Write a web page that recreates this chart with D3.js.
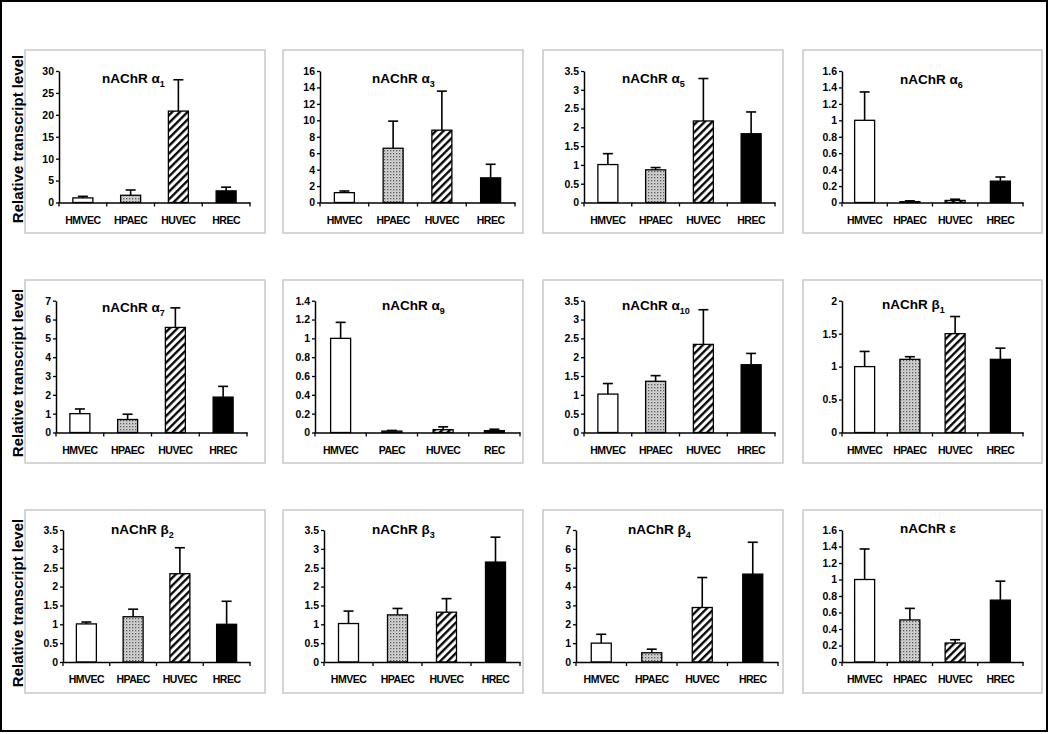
<!DOCTYPE html>
<html><head><meta charset="utf-8">
<script src="https://cdn.jsdelivr.net/npm/d3@7"></script>
<style>body{margin:0;background:#fff}svg{display:block}text{font-family:"Liberation Sans",Arial,sans-serif;font-weight:bold}</style>
</head><body><svg id="c" width="1050" height="734"></svg>
<script>
// ---- data ----
const titleMain = ["nAChR α","nAChR α","nAChR α","nAChR α","nAChR α","nAChR α","nAChR α","nAChR β","nAChR β","nAChR β","nAChR β","nAChR ε"];
const titleSub  = ["1","3","5","6","7","9","10","1","2","3","4",""];
const categories = ["HMVEC","HPAEC","HUVEC","HREC"];
const categoriesA9 = ["HMVEC","PAEC","HUVEC","REC"];
const meanValues = [
  [1.05, 1.65, 20.85, 2.65],
  [1.2, 6.6, 8.8, 3.0],
  [1.01, 0.87, 2.17, 1.83],
  [1.0, 0.01, 0.025, 0.26],
  [1.0, 0.69, 5.58, 1.88],
  [1.0, 0.015, 0.03, 0.02],
  [1.02, 1.36, 2.34, 1.8],
  [1.0, 1.11, 1.5, 1.11],
  [1.01, 1.2, 2.34, 1.0],
  [1.02, 1.25, 1.32, 2.65],
  [1.0, 0.49, 2.89, 4.66],
  [1.0, 0.51, 0.23, 0.75]
];
const errorValues = [
  [0.35, 1.2, 7.15, 0.85],
  [0.2, 3.3, 4.75, 1.65],
  [0.29, 0.06, 1.13, 0.58],
  [0.345, 0.01, 0.015, 0.05],
  [0.25, 0.28, 1.04, 0.57],
  [0.17, 0.007, 0.03, 0.015],
  [0.28, 0.15, 0.92, 0.3],
  [0.23, 0.04, 0.26, 0.17],
  [0.05, 0.2, 0.69, 0.61],
  [0.33, 0.17, 0.36, 0.66],
  [0.47, 0.19, 1.59, 1.69],
  [0.37, 0.14, 0.04, 0.23]
];
const yTickLabels = [
  ["0","5","10","15","20","25","30"],
  ["0","2","4","6","8","10","12","14","16"],
  ["0","0.5","1","1.5","2","2.5","3","3.5"],
  ["0","0.2","0.4","0.6","0.8","1","1.2","1.4","1.6"],
  ["0","1","2","3","4","5","6","7"],
  ["0","0.2","0.4","0.6","0.8","1","1.2","1.4"],
  ["0","0.5","1","1.5","2","2.5","3","3.5"],
  ["0","0.5","1","1.5","2"],
  ["0","0.5","1","1.5","2","2.5","3","3.5"],
  ["0","0.5","1","1.5","2","2.5","3","3.5"],
  ["0","1","2","3","4","5","6","7"],
  ["0","0.2","0.4","0.6","0.8","1","1.2","1.4","1.6"]
];
const yLabel = "Relative transcript level";

// ---- layout ----
const boxX = [[25,265],[283,523],[543,783],[803,1042]];
const boxY = [[50,233],[280,463],[510,693]];
const axisX = [[59,250],[320,515],[584,775],[842,1023],[56,247],[315,520],[584,775],[842,1023],[63,250],[324,520],[576,778],[842,1023]];
const axisY = [[202.5,71],[432.5,300.7],[662,530]];
const titleX = [102,372,622,900,102,382,622,882,111,372,628,900];
const titleY = [83,83,83,84,312,310,310,309,534,534,534,533];
const labelCY = [139,373,603];

const svg = d3.select("#c");
const defs = svg.append("defs");
const stripe = defs.append("pattern").attr("id","stripe").attr("patternUnits","userSpaceOnUse")
  .attr("width",5.4).attr("height",5.4).attr("patternTransform","rotate(45)");
stripe.append("rect").attr("width",5.4).attr("height",5.4).attr("fill","#fff");
stripe.append("line").attr("x1",1.2).attr("x2",1.2).attr("y1",0).attr("y2",5.4).attr("stroke","#000").attr("stroke-width",2.3);
const dots = defs.append("pattern").attr("id","dots").attr("patternUnits","userSpaceOnUse").attr("width",3).attr("height",3);
dots.append("rect").attr("width",3).attr("height",3).attr("fill","#d8d8d8");
dots.append("rect").attr("width",1.3).attr("height",1.3).attr("fill","#555");
dots.append("rect").attr("x",1.5).attr("y",1.5).attr("width",1).attr("height",1).attr("fill","#999");
const fills = ["#fff","url(#dots)","url(#stripe)","#000"];

svg.append("rect").attr("x",1).attr("y",1).attr("width",1046).attr("height",730)
  .attr("fill","none").attr("stroke","#000").attr("stroke-width",2);

for (let r=0;r<3;r++){
  for (let c=0;c<4;c++){
    svg.append("rect").attr("x",boxX[c][0]).attr("y",boxY[r][0])
      .attr("width",boxX[c][1]-boxX[c][0]).attr("height",boxY[r][1]-boxY[r][0])
      .attr("fill","none").attr("stroke","#c8c8c8").attr("stroke-width",1.5);
  }
  svg.append("text").attr("transform",`translate(23,${labelCY[r]}) rotate(-90)`)
    .attr("text-anchor","middle").attr("font-size",15).text(yLabel);
}

meanValues.forEach((vals,i)=>{
  const r = Math.floor(i/4);
  const cats = i===5 ? categoriesA9 : categories;
  const ticks = yTickLabels[i].map(Number);
  const x = d3.scaleBand().domain(cats).range(axisX[i]).paddingInner(0).paddingOuter(0);
  const y = d3.scaleLinear().domain([0, ticks[ticks.length-1]]).range(axisY[r]);
  const g = svg.append("g");
  const bw = 20;
  // bars
  g.selectAll("rect.bar").data(vals).join("rect").attr("class","bar")
    .attr("x",(d,j)=>x(cats[j])+x.bandwidth()/2-bw/2)
    .attr("y",d=>y(d)).attr("width",bw).attr("height",d=>y(0)-y(d))
    .attr("fill",(d,j)=>fills[j]).attr("stroke","#000").attr("stroke-width",1.3);
  // error bars
  const errs = errorValues[i];
  vals.forEach((d,j)=>{
    const cx = x(cats[j])+x.bandwidth()/2;
    g.append("line").attr("x1",cx).attr("x2",cx).attr("y1",y(d)).attr("y2",y(d+errs[j]))
      .attr("stroke","#000").attr("stroke-width",1.6);
    g.append("line").attr("x1",cx-5).attr("x2",cx+5).attr("y1",y(d+errs[j])).attr("y2",y(d+errs[j]))
      .attr("stroke","#000").attr("stroke-width",1.6);
  });
  // y axis
  const ya = g.append("g").attr("transform",`translate(${axisX[i][0]},0)`)
    .call(d3.axisLeft(y).tickValues(ticks).tickFormat((d,k)=>yTickLabels[i][k]).tickSize(3).tickSizeOuter(0).tickPadding(2));
  ya.select(".domain").attr("stroke-width",1.5);
  ya.selectAll(".tick line").attr("stroke-width",1.3);
  ya.selectAll("text").attr("font-size",10.5).attr("font-family","'Liberation Sans',Arial,sans-serif").attr("font-weight","bold");
  // x axis
  const xa = g.append("g").attr("transform",`translate(0,${y(0)})`)
    .call(d3.axisBottom(x).tickSize(0).tickPadding(14).tickSizeOuter(0));
  xa.select(".domain").attr("stroke-width",1.5);
  xa.selectAll("text").attr("font-size",10.5).attr("letter-spacing",-0.5)
    .attr("font-family","'Liberation Sans',Arial,sans-serif").attr("font-weight","bold");
  const bounds = cats.map(cc=>x(cc)).concat([axisX[i][1]]);
  xa.selectAll("line.bt").data(bounds).join("line").attr("class","bt")
    .attr("x1",d=>d).attr("x2",d=>d).attr("y1",0).attr("y2",4).attr("stroke","#000").attr("stroke-width",1.3);
  // title
  const t = g.append("text").attr("x",titleX[i]).attr("y",titleY[i]).attr("font-size",13.5);
  t.append("tspan").text(titleMain[i]);
  if (titleSub[i]) t.append("tspan").attr("font-size",9).attr("dy",4).text(titleSub[i]);
});
</script></body></html>
